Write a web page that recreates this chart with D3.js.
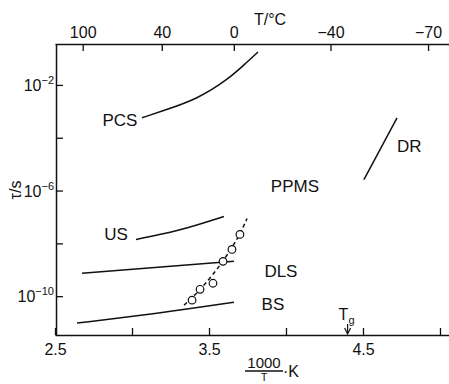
<!DOCTYPE html>
<html>
<head>
<meta charset="utf-8">
<script src="https://cdn.jsdelivr.net/npm/d3@7"></script>
<style>
  body { margin: 0; background: #fff; }
  text { font-family: "Liberation Sans", Arial, sans-serif; fill: #111; }
</style>
</head>
<body>
<div id="chart"></div>
<script>
var svgWidth = 449;
var svgHeight = 384;

// x = 1000/T in K^-1, y = log10(tau/s)
var pcsX = [3.065, 3.201, 3.422, 3.636, 3.747, 3.818];
var pcsLog = [-3.245, -2.98, -2.55, -1.74, -1.13, -0.755];

var usX = [3.026, 3.292, 3.597];
var usLog = [-7.85, -7.55, -6.98];

var dlsX = [2.675, 3.662];
var dlsLog = [-9.13, -8.68];

var bsX = [2.643, 3.182, 3.662];
var bsLog = [-11.02, -10.64, -10.23];

var drX = [4.506, 4.721];
var drLog = [-5.585, -3.245];

var fitX = [3.338, 3.442, 3.59, 3.70, 3.747];
var fitLog = [-10.34, -9.78, -8.72, -7.68, -7.06];

var circX = [3.390, 3.442, 3.526, 3.591, 3.649, 3.701];
var circLog = [-10.15, -9.74, -9.51, -8.68, -8.23, -7.66];

var xTicks = [2.5, 3.0, 3.5, 4.0, 4.5, 5.0];
var xTickLabels = ["2.5", "", "3.5", "", "4.5", ""];
var yTickExp = [-2, -4, -6, -8, -10];
var yLabelExp = [-2, -6, -10];
var topTicksC = [100, 40, 0, -40, -70];
var topTickLabels = ["100", "40", "0", "\u221240", "\u221270"];

var Tg = 4.40;

var regionLabels = [
  {t: "PCS", x: 2.922, y: -3.32},
  {t: "PPMS", x: 4.058, y: -5.81},
  {t: "DR", x: 4.80, y: -4.30},
  {t: "US", x: 2.896, y: -7.66},
  {t: "DLS", x: 3.967, y: -9.06},
  {t: "BS", x: 3.915, y: -10.30}
];

var plotLeft = 56, plotTop = 44, plotBottom = 335, plotRight = 449;

var svg = d3.select("#chart").append("svg")
  .attr("width", svgWidth)
  .attr("height", svgHeight);

var xScale = d3.scaleLinear()
  .domain([2.5, 2.5 + (plotRight - 55) / 154])
  .range([55, plotRight]);

var yScale = d3.scaleLog()
  .domain([Math.pow(10, -11.47), Math.pow(10, -0.45)])
  .range([plotBottom, plotTop]);

function yPos(e) { return yScale(Math.pow(10, e)); }

// bottom axis
var bottomAxis = d3.axisBottom(xScale)
  .tickValues(xTicks)
  .tickSizeInner(-7)
  .tickSizeOuter(0)
  .tickPadding(9)
  .tickFormat((d, i) => xTickLabels[i]);

var xAxis = svg.append("g")
  .attr("transform", `translate(0, ${plotBottom})`)
  .call(bottomAxis);

// top axis in degrees C
var topAxis = d3.axisTop(xScale)
  .tickValues(topTicksC.map(c => 1000 / (c + 273.15)))
  .tickSizeInner(-7)
  .tickSizeOuter(0)
  .tickPadding(6)
  .tickFormat((d, i) => topTickLabels[i]);

var tAxis = svg.append("g")
  .attr("transform", `translate(0, ${plotTop})`)
  .call(topAxis);

// left axis
var leftAxis = d3.axisLeft(yScale)
  .tickValues(yTickExp.map(e => Math.pow(10, e)))
  .tickSizeInner(-7)
  .tickSizeOuter(0)
  .tickFormat("");

var yAxis = svg.append("g")
  .attr("transform", `translate(${plotLeft}, 0)`)
  .call(leftAxis);

[xAxis, tAxis, yAxis].forEach(g => {
  g.selectAll("path.domain").attr("stroke", "#111").attr("stroke-width", 1.5);
  g.selectAll(".tick line").attr("stroke", "#111").attr("stroke-width", 1.3);
  g.selectAll(".tick text").style("font-family", "Liberation Sans, Arial, sans-serif")
    .style("font-size", "16px").attr("fill", "#111");
});

// y tick labels with superscripts
yLabelExp.forEach(e => {
  var t = svg.append("text")
    .attr("x", plotLeft - 2)
    .attr("y", yPos(e) + 6)
    .attr("text-anchor", "end")
    .style("font-size", "16px");
  t.append("tspan").text("10");
  t.append("tspan").attr("dy", -7).style("font-size", "11px").text("\u2212" + Math.abs(e));
});

// axis titles
svg.append("text")
  .attr("transform", `translate(21, 190) rotate(-90)`)
  .attr("text-anchor", "middle")
  .style("font-size", "16px")
  .text("\u03c4/s");

svg.append("text")
  .attr("x", 270)
  .attr("y", 25)
  .attr("text-anchor", "middle")
  .style("font-size", "16px")
  .text("T/\u00b0C");

var fracX = 264;
svg.append("text").attr("x", fracX).attr("y", 368).attr("text-anchor", "middle")
  .style("font-size", "15px").text("1000");
svg.append("line").attr("x1", fracX - 19).attr("x2", fracX + 19)
  .attr("y1", 371).attr("y2", 371).attr("stroke", "#111").attr("stroke-width", 1.3);
svg.append("text").attr("x", fracX).attr("y", 381).attr("text-anchor", "middle")
  .style("font-size", "11px").text("T");
svg.append("text").attr("x", fracX + 19).attr("y", 377)
  .style("font-size", "16px").text("\u00b7K");

// curves
var line = d3.line()
  .x(d => xScale(d[0]))
  .y(d => yPos(d[1]))
  .curve(d3.curveBasis);

function curve(xs, ys, dash) {
  svg.append("path")
    .datum(xs.map((x, i) => [x, ys[i]]))
    .attr("d", line)
    .attr("fill", "none")
    .attr("stroke", "#111")
    .attr("stroke-width", 1.5)
    .attr("stroke-dasharray", dash || null);
}

curve(pcsX, pcsLog);
curve(usX, usLog);
curve(dlsX, dlsLog);
curve(bsX, bsLog);
curve(drX, drLog);
curve(fitX, fitLog, "4,3");

svg.selectAll("circle.pt")
  .data(circX.map((x, i) => [x, circLog[i]]))
  .enter()
  .append("circle")
  .attr("class", "pt")
  .attr("cx", d => xScale(d[0]))
  .attr("cy", d => yPos(d[1]))
  .attr("r", 3.8)
  .attr("fill", "#fff")
  .attr("stroke", "#111")
  .attr("stroke-width", 1.2);

// region labels
svg.selectAll("text.region")
  .data(regionLabels)
  .enter()
  .append("text")
  .attr("class", "region")
  .attr("x", d => xScale(d.x))
  .attr("y", d => yPos(d.y) + 6)
  .attr("text-anchor", "middle")
  .style("font-size", "17px")
  .text(d => d.t);

// Tg marker
var tgx = xScale(Tg);
var tg = svg.append("text")
  .attr("x", tgx - 9)
  .attr("y", 320)
  .style("font-size", "16px");
tg.append("tspan").text("T");
tg.append("tspan").attr("dy", 4).style("font-size", "11px").text("g");
svg.append("line").attr("x1", tgx).attr("x2", tgx).attr("y1", 324).attr("y2", 333)
  .attr("stroke", "#111").attr("stroke-width", 1.2);
svg.append("path")
  .attr("d", `M${tgx - 3},${328} L${tgx},${334} L${tgx + 3},${328}`)
  .attr("fill", "none").attr("stroke", "#111").attr("stroke-width", 1.2);
</script>
</body>
</html>
